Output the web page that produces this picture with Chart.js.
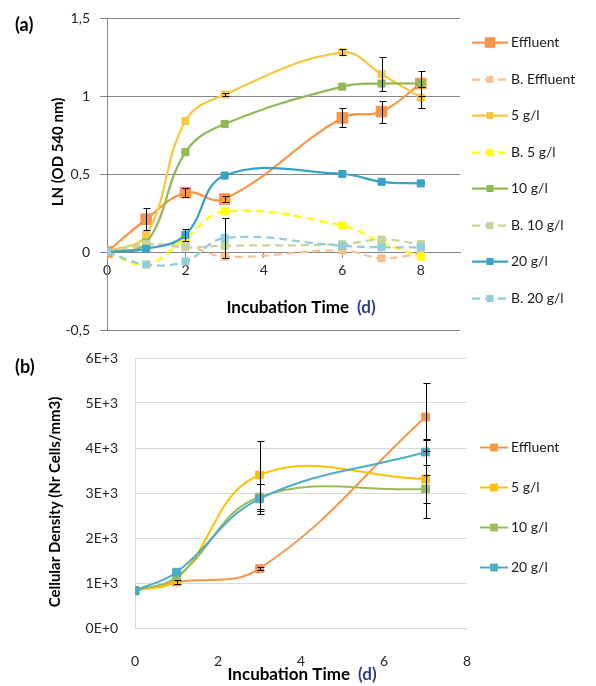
<!DOCTYPE html>
<html>
<head>
<meta charset="utf-8">
<script src="https://cdn.jsdelivr.net/npm/chart.js@4.4.1/dist/chart.umd.min.js"></script>
<style>
    body { margin: 0; background: #fff; }
    .wrap { position: absolute; left: 0; }
</style>
</head>
<body>
<div class="wrap" style="top:0"><canvas id="chartA" width="596" height="340"></canvas></div>
<div class="wrap" style="top:340px"><canvas id="chartB" width="596" height="346"></canvas></div>
<script>
// (a) LN (OD 540 nm)
const daysA = [0, 1, 2, 3, 6, 7, 8];
const effluent = [0, 0.21, 0.38, 0.34, 0.86, 0.90, 1.08];
const bEffluent = [0, 0.04, 0.04, -0.03, 0.01, -0.04, -0.01];
const g5 = [0, 0.11, 0.84, 1.01, 1.28, 1.14, 0.99];
const bG5 = [0, -0.08, 0.09, 0.26, 0.17, 0.06, -0.03];
const g10 = [0, 0.06, 0.64, 0.82, 1.06, 1.08, 1.08];
const bG10 = [0, 0.05, 0.03, 0.04, 0.05, 0.08, 0.05];
const g20 = [0, 0.02, 0.11, 0.49, 0.50, 0.45, 0.44];
const bG20 = [0, -0.08, -0.06, 0.09, 0.04, 0.03, 0.03];

const errEffluent = [0, 0.07, 0.03, 0.02, 0.06, 0.07, 0.08];
const errG5 = [0, 0, 0, 0.01, 0.02, 0.11, 0.07];
const errG20 = [0, 0, 0.04, 0, 0, 0, 0];
const errBG20 = [0, 0, 0, 0.13, 0, 0, 0];

const xTicksA = [0, 2, 4, 6, 8];
const yTicksA = [-0.5, 0, 0.5, 1, 1.5];

// (b) Cellular density
const daysB = [0, 1, 3, 7];
const effluentB = [820, 1020, 1320, 4690];
const g5B = [830, 1080, 3400, 3310];
const g10B = [830, 1130, 2910, 3090];
const g20B = [830, 1240, 2870, 3910];

const errEffluentB = [0, 40, 40, 750];
const errG5B = [0, 0, 760, 860];
const errG10B = [0, 0, 300, 320];
const errG20B = [0, 0, 340, 290];

const xTicksB = [0, 2, 4, 6, 8];
const yTicksB = [0, 1000, 2000, 3000, 4000, 5000, 6000];

const fam = 'Lato, "Open Sans", sans-serif';
Chart.defaults.font.family = fam;

function serie(label, days, ys, color, opts) {
    const o = opts || {};
    return {
        label: label,
        data: days.map((d, i) => ({ x: d, y: ys[i] })),
        borderColor: color,
        backgroundColor: color,
        borderWidth: o.width || 2.25,
        borderDash: o.dash ? [8, 5] : [],
        pointStyle: 'rect',
        pointRadius: o.r || 5,
        pointBorderWidth: 1,
        pointBorderColor: color,
        pointBackgroundColor: color,
        tension: 0.4,
        err: o.err,
        order: o.order
    };
}

// fixed axis width, no extra label padding above/below the plot
function fixY(width) {
    return s => {
        s.width = width;
        s.paddingTop = 0;
        s.paddingBottom = 0;
    };
}

// error bars, titles and the legend
const decor = {
    id: 'decor',
    afterDatasetsDraw(chart) {
        const ctx = chart.ctx, xs = chart.scales.x, ys = chart.scales.y;
        ctx.save();
        ctx.strokeStyle = '#000';
        ctx.lineWidth = 1;
        chart.data.datasets.forEach(ds => {
            if (!ds.err) return;
            ds.data.forEach((p, i) => {
                const e = ds.err[i];
                if (!e) return;
                const x = Math.round(xs.getPixelForValue(p.x)) + 0.5;
                const y1 = Math.round(ys.getPixelForValue(p.y + e)) + 0.5;
                const y2 = Math.round(ys.getPixelForValue(p.y - e)) + 0.5;
                ctx.beginPath();
                ctx.moveTo(x, y1); ctx.lineTo(x, y2);
                ctx.moveTo(x - 3, y1); ctx.lineTo(x + 4, y1);
                ctx.moveTo(x - 3, y2); ctx.lineTo(x + 4, y2);
                ctx.stroke();
            });
        });
        ctx.restore();
    },
    afterDraw(chart, args, o) {
        const ctx = chart.ctx;
        ctx.save();
        ctx.textBaseline = 'middle';
        ctx.fillStyle = '#000';
        ctx.font = 'bold 18px ' + fam;
        ctx.fillText(o.panel, o.panelX, o.panelY);

        ctx.save();
        ctx.translate(o.yTitleX, o.yTitleY);
        ctx.rotate(-Math.PI / 2);
        ctx.textAlign = 'center';
        ctx.font = 'bold 15px ' + fam;
        ctx.fillText(o.yTitle, 0, 0);
        ctx.restore();

        ctx.font = 'bold 17px ' + fam;
        const w1 = ctx.measureText(o.xTitle).width;
        const w2 = ctx.measureText(o.xUnit).width;
        const x0 = o.xTitleX - (w1 + 8 + w2) / 2;
        ctx.fillText(o.xTitle, x0, o.xTitleY);
        ctx.fillStyle = '#2E3B84';
        ctx.fillText(o.xUnit, x0 + w1 + 8, o.xTitleY);

        ctx.font = '14px ' + fam;
        chart.data.datasets.forEach((ds, i) => {
            const y = Math.round(o.legY + i * o.legStep) + 0.5;
            ctx.strokeStyle = ds.borderColor;
            ctx.lineWidth = ds.borderWidth;
            ctx.setLineDash(ds.borderDash);
            ctx.beginPath();
            ctx.moveTo(o.legX, y);
            ctx.lineTo(o.legX + o.legLen, y);
            ctx.stroke();
            ctx.setLineDash([]);
            const s = ds.pointRadius * 1.41;
            ctx.fillStyle = ds.backgroundColor;
            ctx.fillRect(o.legX + o.legLen / 2 - s / 2, y - s / 2, s, s);
            ctx.fillStyle = '#1a1a1a';
            ctx.fillText(ds.label, o.legX + o.legLen + 3, y);
        });
        ctx.restore();
    }
};

const tickFont = { size: 14 };
const tickColor = '#262626';

new Chart(document.getElementById('chartA'), {
    type: 'line',
    data: {
        datasets: [
            serie('Effluent', daysA, effluent, '#F79646', { r: 7.5, err: errEffluent, order: 8 }),
            serie('B. Effluent', daysA, bEffluent, '#FAC090', { dash: true, order: 7 }),
            serie('5 g/l', daysA, g5, '#F5C842', { err: errG5, order: 6 }),
            serie('B. 5 g/l', daysA, bG5, '#FFFF00', { dash: true, order: 5 }),
            serie('10 g/l', daysA, g10, '#92B957', { order: 4 }),
            serie('B. 10 g/l', daysA, bG10, '#C3D69B', { dash: true, order: 3 }),
            serie('20 g/l', daysA, g20, '#3AA3C3', { err: errG20, order: 2 }),
            serie('B. 20 g/l', daysA, bG20, '#93CDDD', { dash: true, err: errBG20, order: 1 })
        ]
    },
    options: {
        responsive: false,
        animation: false,
        events: [],
        layout: { padding: { left: 0, top: 18, right: 136, bottom: 10 } },
        scales: {
            x: {
                type: 'linear',
                position: { y: 0 },
                min: 0,
                max: 9,
                afterBuildTicks: s => { s.ticks = xTicksA.map(v => ({ value: v })); },
                grid: { drawOnChartArea: false, color: '#868686', tickLength: 5 },
                border: { color: '#868686' },
                ticks: { font: tickFont, color: tickColor, padding: 5, maxRotation: 0 }
            },
            y: {
                min: -0.5,
                max: 1.5,
                afterBuildTicks: s => { s.ticks = yTicksA.map(v => ({ value: v })); },
                afterFit: fixY(107),
                grid: { color: '#868686', tickLength: 7 },
                border: { color: '#868686' },
                ticks: {
                    font: tickFont, color: tickColor, padding: 10,
                    callback: v => String(v).replace('.', ',')
                }
            }
        },
        plugins: {
            legend: { display: false },
            tooltip: { enabled: false },
            decor: {
                panel: '(a)', panelX: 15, panelY: 25,
                yTitle: 'LN (OD 540 nm)', yTitleX: 58, yTitleY: 152,
                xTitle: 'Incubation Time', xUnit: '(d)', xTitleX: 301, xTitleY: 308,
                legX: 472, legLen: 36, legY: 42, legStep: 36.5
            }
        }
    },
    plugins: [decor]
});

new Chart(document.getElementById('chartB'), {
    type: 'line',
    data: {
        datasets: [
            serie('Effluent', daysB, effluentB, '#F79646', { width: 2, r: 5.5, err: errEffluentB, order: 4 }),
            serie('5 g/l', daysB, g5B, '#FFC000', { width: 2, r: 5.5, err: errG5B, order: 3 }),
            serie('10 g/l', daysB, g10B, '#9BBB59', { width: 2, r: 5.5, err: errG10B, order: 2 }),
            serie('20 g/l', daysB, g20B, '#4BACC6', { width: 2, r: 5.5, err: errG20B, order: 1 })
        ]
    },
    options: {
        responsive: false,
        animation: false,
        events: [],
        layout: { padding: { left: 0, top: 18, right: 129, bottom: 0 } },
        scales: {
            x: {
                type: 'linear',
                min: 0,
                max: 8,
                afterBuildTicks: s => { s.ticks = xTicksB.map(v => ({ value: v })); },
                afterFit: s => { s.height = 58; },
                grid: { display: false },
                border: { color: '#D9D9D9' },
                ticks: { font: tickFont, color: tickColor, padding: 17, maxRotation: 0 }
            },
            y: {
                min: 0,
                max: 6000,
                afterBuildTicks: s => { s.ticks = yTicksB.map(v => ({ value: v })); },
                afterFit: fixY(135),
                grid: { color: '#D9D9D9', drawTicks: false },
                border: { color: '#D9D9D9' },
                ticks: {
                    font: tickFont, color: tickColor, padding: 17,
                    callback: v => v === 0 ? '0E+0' : (v / 1000) + 'E+3'
                }
            }
        },
        plugins: {
            legend: { display: false },
            tooltip: { enabled: false },
            decor: {
                panel: '(b)', panelX: 15, panelY: 27,
                yTitle: 'Cellular Density (Nr Cells/mm3)', yTitleX: 55, yTitleY: 162,
                xTitle: 'Incubation Time', xUnit: '(d)', xTitleX: 302, xTitleY: 335,
                legX: 480, legLen: 28, legY: 107, legStep: 40
            }
        }
    },
    plugins: [decor]
});
</script>
</body>
</html>
